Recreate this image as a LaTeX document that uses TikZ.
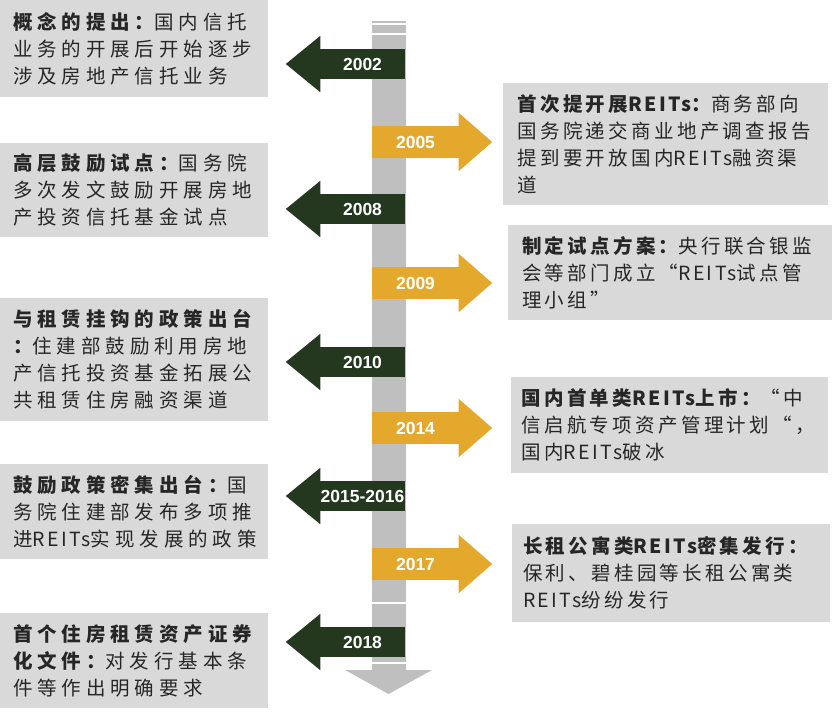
\documentclass[tikz,border=0pt]{standalone}
\usepackage{fontspec}
\usepackage{xcolor}
\usepackage{tikz}
\usetikzlibrary{calc, positioning}
\newfontfamily\cjkleft[LetterSpace=25]{Noto Sans CJK SC}
\newfontfamily\cjkright[LetterSpace=17]{Noto Sans CJK SC}
\newfontfamily\cjkplain[LetterSpace=12]{Noto Sans CJK SC}
\newfontfamily\yearfont{Liberation Sans}
\newcommand\reits{{\cjkplain REITs}}
\definecolor{yeargreen}{RGB}{36,56,32}
\definecolor{yeargold}{RGB}{228,169,44}
\definecolor{boxgray}{RGB}{217,217,217}
\definecolor{bargray}{RGB}{191,191,191}
\tikzset{
  eventbox/.style={
    fill=boxgray, text=black!85, align=left, inner sep=0pt
  },
  leftbox/.style={
    eventbox, text width=242pt, minimum width=268pt,
    font=\cjkleft\fontsize{19.5}{27}\selectfont
  },
  rightbox/.style={
    eventbox, text width=296pt,
    font=\cjkright\fontsize{19.5}{27}\selectfont
  },
  yearleft/.style={
    fill=yeargreen, text=white, inner sep=0pt,
    font=\yearfont\bfseries\fontsize{17.5}{17.5}\selectfont,
    minimum width=85pt, minimum height=30pt
  },
  yearright/.style={
    fill=yeargold, text=white, inner sep=0pt,
    font=\yearfont\bfseries\fontsize{17.5}{17.5}\selectfont,
    minimum width=87pt, minimum height=32pt
  },
}

\begin{document}
\begin{tikzpicture}[x=1pt, y=-1pt]
  \useasboundingbox (0,0) rectangle (834,713);

  % Time bar
  \fill[bargray] (372,21) rectangle (406,671);
  \fill[bargray] (345,670) -- (432,670) -- (388.5,694) -- cycle;
  \draw[white, line width=2pt] (372,24) -- (406,24);
  \draw[white, line width=1.5pt] (372,34) -- (406,34);
  \draw[white, line width=1.5pt] (372,603) -- (406,603);
  \draw[white, line width=2pt] (372,663) -- (406,663);

  % Left events
  \node[leftbox, minimum height=97pt] (concept) at (134,48.5) {
    {\bfseries 概念的提出：}国内信托\\
    业务的开展后开始逐步\\
    涉及房地产信托业务
  };
  \node[leftbox, minimum height=94pt] (pilot) at (134,190) {
    {\bfseries 高层鼓励试点：}国务院\\
    多次发文鼓励开展房地\\
    产投资信托基金试点
  };
  \node[leftbox, minimum height=123pt] (rental) at (134,359.5) {
    {\bfseries 与租赁挂钩的政策出台}\\
    {\bfseries ：}住建部鼓励利用房地\\
    产信托投资基金拓展公\\
    共租赁住房融资渠道
  };
  \node[leftbox, minimum height=95pt] (policy) at (134,511.5) {
    {\bfseries 鼓励政策密集出台：}国\\
    务院住建部发布多项推\\
    进\reits 实现发展的政策
  };
  \node[leftbox, minimum height=95pt] (abs) at (134,660.5) {
    {\bfseries 首个住房租赁资产证券}\\
    {\bfseries 化文件：}对发行基本条\\
    件等作出明确要求
  };

  % Right events
  \node[rightbox, minimum width=325pt, minimum height=122pt] (first) at (665.5,144) {
    {\bfseries 首次提开展\reits ：}商务部向\\
    国务院递交商业地产调查报告\\
    提到要开放国内\reits 融资渠\\
    道
  };
  \node[rightbox, minimum width=324pt, minimum height=95pt] (scheme) at (670,272.5) {
    {\bfseries 制定试点方案：}央行联合银监\\
    会等部门成立“\reits 试点管\\
    理小组”
  };
  \node[rightbox, minimum width=317pt, minimum height=96pt] (listing) at (669.5,425) {
    {\bfseries 国内首单类\reits 上市：}“中\\
    信启航专项资产管理计划“，\\
    国内\reits 破冰
  };
  \node[rightbox, minimum width=318pt, minimum height=98pt] (flat) at (671,573) {
    {\bfseries 长租公寓类\reits 密集发行：}\\
    保利、碧桂园等长租公寓类\\
    \reits 纷纷发行
  };

  % Years pointing left
  \node[yearleft] (y2002) at (362.5,64) {2002};
  \fill[yeargreen] ($(y2002.north west)+(0.5,-13)$) -- ($(y2002.west)+(-34,0)$)
    -- ($(y2002.south west)+(0.5,13)$) -- cycle;
  \node[yearleft] (y2008) at (362.5,209) {2008};
  \fill[yeargreen] ($(y2008.north west)+(0.5,-13)$) -- ($(y2008.west)+(-34,0)$)
    -- ($(y2008.south west)+(0.5,13)$) -- cycle;
  \node[yearleft] (y2010) at (362.5,362) {2010};
  \fill[yeargreen] ($(y2010.north west)+(0.5,-13)$) -- ($(y2010.west)+(-34,0)$)
    -- ($(y2010.south west)+(0.5,13)$) -- cycle;
  \node[yearleft] (y2015) at (362.5,496) {2015-2016};
  \fill[yeargreen] ($(y2015.north west)+(0.5,-13)$) -- ($(y2015.west)+(-34,0)$)
    -- ($(y2015.south west)+(0.5,13)$) -- cycle;
  \node[yearleft] (y2018) at (362.5,642) {2018};
  \fill[yeargreen] ($(y2018.north west)+(0.5,-13)$) -- ($(y2018.west)+(-34,0)$)
    -- ($(y2018.south west)+(0.5,13)$) -- cycle;

  % Years pointing right
  \node[yearright] (y2005) at (415.5,142) {2005};
  \fill[yeargold] ($(y2005.north east)+(-0.5,-13)$) -- ($(y2005.east)+(33,0)$)
    -- ($(y2005.south east)+(-0.5,13)$) -- cycle;
  \node[yearright] (y2009) at (415.5,283) {2009};
  \fill[yeargold] ($(y2009.north east)+(-0.5,-13)$) -- ($(y2009.east)+(33,0)$)
    -- ($(y2009.south east)+(-0.5,13)$) -- cycle;
  \node[yearright] (y2014) at (415.5,428) {2014};
  \fill[yeargold] ($(y2014.north east)+(-0.5,-13)$) -- ($(y2014.east)+(33,0)$)
    -- ($(y2014.south east)+(-0.5,13)$) -- cycle;
  \node[yearright] (y2017) at (415.5,564) {2017};
  \fill[yeargold] ($(y2017.north east)+(-0.5,-13)$) -- ($(y2017.east)+(33,0)$)
    -- ($(y2017.south east)+(-0.5,13)$) -- cycle;
\end{tikzpicture}
\end{document}
